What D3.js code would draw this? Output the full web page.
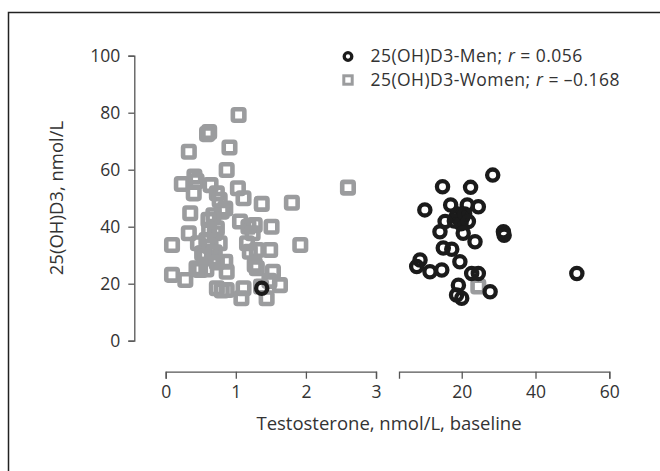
<!DOCTYPE html>
<html>
<head>
<meta charset="utf-8">
<script src="https://cdn.jsdelivr.net/npm/d3@7"></script>
<style>
  body { margin: 0; background: #fff; }
  text { font-family: "Open Sans", "Noto Sans", sans-serif; fill: #333; }
</style>
</head>
<body>
<div id="chart"></div>
<script>
// Testosterone (nmol/L) vs 25(OH)D3 (nmol/L)
var womenPoints = [
  [1.04, 79.2], [0.59, 72.5], [0.62, 73.2], [0.91, 67.8], [0.33, 66.3], [0.87, 59.9],
  [0.23, 55.0], [0.41, 57.6], [0.44, 56.0], [0.40, 51.7], [0.64, 54.6], [0.73, 51.7],
  [0.77, 49.4], [0.85, 46.4], [1.03, 53.5], [1.11, 50.0], [1.37, 48.0], [1.80, 48.4],
  [2.60, 53.7], [0.35, 44.7], [0.80, 45.3], [0.33, 37.7], [0.09, 33.6], [1.92, 33.6],
  [1.06, 41.8], [1.27, 40.6], [1.51, 40.0], [1.18, 40.0], [1.24, 37.7], [1.16, 34.2],
  [1.30, 31.8], [1.49, 31.8], [1.20, 31.2], [1.27, 26.6], [1.30, 25.4], [1.53, 24.2],
  [0.87, 24.2], [0.09, 23.1], [0.28, 21.3], [0.49, 24.8], [0.58, 25.0], [0.73, 18.4],
  [0.87, 17.8], [0.80, 17.6], [1.11, 18.4], [1.08, 14.9], [1.44, 14.9], [1.63, 19.5],
  [1.36, 19.0], [1.48, 21.0], [0.61, 42.4], [0.73, 39.4], [0.58, 35.3], [0.77, 34.2],
  [0.54, 30.7], [0.66, 28.9], [0.85, 27.7], [0.44, 25.4], [0.70, 37.7], [0.64, 33.0],
  [0.52, 30.7], [0.46, 34.2], [0.57, 29.5], [0.73, 27.5], [0.68, 44.0], [0.62, 39.0],
  [0.70, 31.0], [24.5, 19.0]
];
var menPoints = [
  [28.4, 58.1], [14.8, 54.0], [22.4, 53.8], [10.0, 45.9], [17.0, 47.6], [21.5, 47.6],
  [24.5, 47.0], [18.5, 43.5], [19.5, 42.6], [20.3, 43.2], [19.0, 44.5], [18.0, 42.0],
  [19.8, 41.0], [20.8, 44.5], [15.5, 41.8], [21.8, 41.8], [14.1, 38.2], [20.4, 37.7],
  [31.3, 38.2], [31.5, 37.0], [23.6, 34.7], [15.0, 32.5], [17.3, 32.1], [19.5, 27.7],
  [8.7, 28.3], [7.8, 26.0], [11.4, 24.2], [14.6, 24.8], [22.7, 23.6], [24.5, 23.6],
  [51.2, 23.6], [19.1, 19.5], [18.6, 16.0], [20.0, 14.9], [27.7, 17.2], [1.37, 18.4]
];
var yTicks = [0, 20, 40, 60, 80, 100];
var xTicksLow = [0, 1, 2, 3];
var xTicksHigh = [20, 40, 60];
var legendLabels = [
  {name: "25(OH)D3-Men;", r: "0.056"},
  {name: "25(OH)D3-Women;", r: "\u20130.168"}
];

var width = 660, height = 471;
var grey = "#9b9c9e", black = "#1b1b1b";
var labelSize = 17.5, textSize = 18.5, legendSize = 17.5;

var svg = d3.select("#chart").append("svg")
    .attr("width", width)
    .attr("height", height);

// outer frame (runs off the right and bottom edge)
svg.append("rect")
    .attr("x", 8.5).attr("y", 12.5)
    .attr("width", 700).attr("height", 500)
    .attr("fill", "none")
    .attr("stroke", "#222")
    .attr("stroke-width", 1.5);

// scales - broken x axis: 0..3 and 3..60
var y = d3.scaleLinear().domain([0, 100]).range([340.7, 55.7]);
var xLow = d3.scaleLinear().domain([0, 3]).range([165.7, 376]);
var xHigh = d3.scaleLinear().domain([3, 60]).range([399, 609.3]);
function xPos(v) { return v <= 3 ? xLow(v) : xHigh(v); }

function styleAxis(g) {
  g.selectAll("path, line").attr("stroke", "#555").attr("stroke-width", 1.3);
  g.selectAll("text").attr("font-size", labelSize).attr("fill", "#333")
    .style("font-family", "'Open Sans', sans-serif");
}

svg.append("g")
    .attr("transform", "translate(134.3,0)")
    .call(d3.axisLeft(y).tickValues(yTicks).tickFormat(d3.format("d")).tickSize(6).tickPadding(8))
    .call(styleAxis);

svg.append("g")
    .attr("transform", "translate(0,371.7)")
    .call(d3.axisBottom(xLow).tickValues(xTicksLow).tickFormat(d3.format("d")).tickSize(7).tickPadding(7))
    .call(styleAxis);

svg.append("g")
    .attr("transform", "translate(0,371.7)")
    .call(d3.axisBottom(xHigh).tickValues(xTicksHigh).tickFormat(d3.format("d")).tickSize(7).tickPadding(7))
    .call(styleAxis);

// axis titles
svg.append("text")
    .attr("transform", "translate(63,198) rotate(-90)")
    .attr("text-anchor", "middle")
    .attr("font-size", textSize)
    .text("25(OH)D3, nmol/L");

svg.append("text")
    .attr("x", 389).attr("y", 430)
    .attr("text-anchor", "middle")
    .attr("font-size", textSize)
    .text("Testosterone, nmol/L, baseline");

// women - grey squares
var sq = 11.5;
svg.append("g").selectAll("rect")
    .data(womenPoints)
  .enter().append("rect")
    .attr("x", function(d) { return xPos(d[0]) - sq / 2; })
    .attr("y", function(d) { return y(d[1]) - sq / 2; })
    .attr("width", sq).attr("height", sq)
    .attr("rx", 1.5)
    .attr("fill", "none")
    .attr("stroke", grey)
    .attr("stroke-width", 4.6);

// men - black rings
svg.append("g").selectAll("circle")
    .data(menPoints)
  .enter().append("circle")
    .attr("cx", function(d) { return xPos(d[0]); })
    .attr("cy", function(d) { return y(d[1]); })
    .attr("r", 5.6)
    .attr("fill", "none")
    .attr("stroke", black)
    .attr("stroke-width", 4.3);

// legend
var legend = svg.append("g");
legend.append("circle")
    .attr("cx", 348).attr("cy", 56.5).attr("r", 3.8)
    .attr("fill", "none").attr("stroke", black).attr("stroke-width", 3.3);
legend.append("rect")
    .attr("x", 343.8).attr("y", 75.8).attr("width", 8.4).attr("height", 8.4)
    .attr("fill", "none").attr("stroke", grey).attr("stroke-width", 3);

// each line: name, italic r, "= value" as separate texts placed side by side
legendLabels.forEach(function(l, i) {
  var yy = 62 + i * 24;
  var a = legend.append("text").attr("x", 370.5).attr("y", yy)
      .attr("font-size", legendSize).attr("letter-spacing", 0.45).text(l.name);
  var x1 = 370.5 + a.node().getComputedTextLength() + 5.5;
  var b = legend.append("text").attr("x", x1).attr("y", yy)
      .attr("font-size", legendSize).attr("font-style", "italic").text("r");
  var x2 = x1 + b.node().getComputedTextLength() + 5.5;
  legend.append("text").attr("x", x2).attr("y", yy)
      .attr("font-size", legendSize).attr("letter-spacing", 0.45).text("= " + l.r);
});
</script>
</body>
</html>
